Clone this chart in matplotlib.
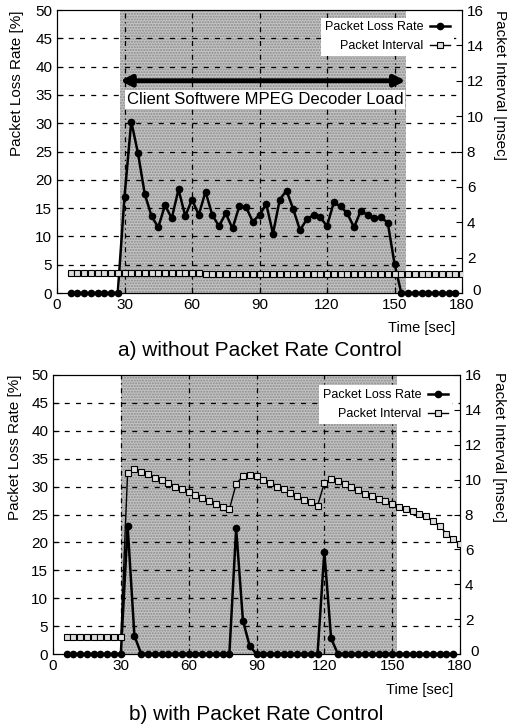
import numpy as np
import matplotlib
matplotlib.use("Agg")
import matplotlib.pyplot as plt
import matplotlib.transforms as mtransforms

plt.rcParams["font.family"] = ["Liberation Sans", "DejaVu Sans"]

# --- DATOS ---
# a) sin control de tasa
t_loss_a = list(range(6, 178, 3))
loss_a = ([0] * 8 +
          [17.0, 30.3, 24.7, 17.5, 13.6, 11.6, 15.5, 13.2, 18.3, 13.6,
           16.5, 13.8, 17.9, 13.8, 11.8, 14.1, 11.4, 15.3, 15.2, 12.6,
           13.8, 15.7, 10.5, 16.5, 18.1, 14.8, 11.1, 13.0, 13.8, 13.4,
           11.8, 16.0, 15.3, 14.1, 11.6, 14.5, 13.8, 13.2, 13.4, 12.4,
           5.2] +
          [0] * 9)
t_int_a = list(range(6, 181, 3))
int_a = [1.15, 1.15, 1.15, 1.15, 1.15, 1.15, 1.15, 1.15, 1.15, 1.15,
         1.12, 1.12, 1.12, 1.12, 1.12, 1.12, 1.12, 1.12, 1.12, 1.12,
         1.10, 1.10, 1.10, 1.10, 1.10, 1.10, 1.10, 1.10, 1.10, 1.10,
         1.08, 1.08, 1.08, 1.08, 1.08, 1.08, 1.08, 1.08, 1.08, 1.08,
         1.06, 1.06, 1.06, 1.06, 1.06, 1.06, 1.06, 1.06, 1.06, 1.06,
         1.05, 1.05, 1.05, 1.05, 1.05, 1.05, 1.05, 1.05, 1.05]

# b) con control de tasa
t_loss_b = list(range(6, 178, 3))
loss_b = ([0] * 9 + [23.0, 3.3] + [0] * 14 + [22.5, 6.0, 1.4] +
          [0] * 10 + [18.3, 2.8] + [0] * 18)
t_int_b = list(range(6, 181, 3))
int_b = ([1.0] * 9 +
         [10.4, 10.6, 10.45, 10.3, 10.1, 9.95, 9.8, 9.6, 9.45, 9.3,
          9.1, 8.95, 8.75, 8.6, 8.45, 8.3,
          9.75, 10.2, 10.25, 10.2, 10.0, 9.8, 9.6, 9.45, 9.25, 9.05,
          8.85, 8.7, 8.5,
          9.8, 10.05, 9.9, 9.75, 9.55, 9.4, 9.2, 9.05, 8.9, 8.75,
          8.6, 8.45, 8.3, 8.2, 8.05, 7.9, 7.65, 7.35, 6.9, 6.6, 6.3])

x_ticks = [0, 30, 60, 90, 120, 150, 180]
y_ticks = [0, 5, 10, 15, 20, 25, 30, 35, 40, 45, 50]
y2_ticks = [0, 2, 4, 6, 8, 10, 12, 14, 16]

W, H = 507, 725


def panel(fig, rect, t_loss, loss, t_int, interval, shade, legend_y):
    ax = fig.add_axes(rect)
    ax.set_xlim(0, 180)
    ax.set_ylim(0, 50)
    ax.set_xticks(x_ticks)
    ax.set_yticks(y_ticks)
    ax.tick_params(direction="in", labelsize=11, length=4)

    # zona de carga del decodificador
    ax.axvspan(shade[0], shade[1], facecolor="#c4c4c4", edgecolor="#8a8a8a",
               hatch="......", linewidth=0, zorder=0)

    for yv in y_ticks[1:-1]:
        ax.axhline(yv, color="black", lw=0.9, ls=(0, (4, 5)), zorder=1)
    for xv in x_ticks[1:-1]:
        ax.axvline(xv, color="black", lw=0.9, ls=(0, (4, 3, 1, 3)), zorder=1)

    l1, = ax.plot(t_loss, loss, color="black", lw=1.8, marker="o", ms=4.5,
                  label="Packet Loss Rate", zorder=4, clip_on=False)

    # eje derecho: intervalo entre paquetes
    ax2 = ax.twinx()
    ax2.set_ylim(0, 16)
    ax2.set_yticks(y2_ticks)
    ax2.tick_params(direction="in", labelsize=11, length=4)
    # el "0" derecho queda desplazado como en el original
    lab0 = ax2.get_yticklabels()[0]
    lab0.set_transform(lab0.get_transform() + mtransforms.ScaledTranslation(
        6 / 100, 4 / 100, fig.dpi_scale_trans))

    l2, = ax2.plot(t_int, interval, color="black", lw=1.0, marker="s",
                   ms=4.5, mfc="#dddddd", mec="black", mew=0.8,
                   label="Packet Interval", zorder=3)

    leg = ax2.legend([l1, l2], ["Packet Loss Rate", "Packet Interval"],
                     loc="upper right", bbox_to_anchor=(0.995, legend_y),
                     markerfirst=False, fontsize=9, frameon=True,
                     facecolor="white", edgecolor="none", framealpha=1,
                     handlelength=1.6, borderpad=0.3, labelspacing=0.55,
                     handletextpad=0.5)
    leg.get_frame().set_boxstyle("square", pad=0)
    for txt in leg.get_texts():
        txt.set_ha("right")
    return ax, ax2


fig = plt.figure(figsize=(W / 100, H / 100), dpi=100)

# --- Panel a) ---
ax_a, ax_a2 = panel(fig, [57 / W, 1 - 293 / H, 405 / W, 283 / H],
                    t_loss_a, loss_a, t_int_a, int_a, (28, 155), 0.995)
ax_a.annotate("", xy=(28, 37.5), xytext=(155, 37.5),
              arrowprops=dict(arrowstyle="<|-|>", lw=3.5, color="black",
                              mutation_scale=16, shrinkA=0, shrinkB=0),
              zorder=5)
ax_a.text(92.4, 34.1, "Client Softwere MPEG Decoder Load", fontsize=12,
          ha="center", va="center", zorder=5,
          bbox=dict(facecolor="white", edgecolor="none", pad=1.5))

fig.text(17 / W, 1 - 10 / H, "Packet Loss Rate [%]", rotation=90,
         ha="center", va="top", fontsize=11)
fig.text(500 / W, 1 - 10 / H, "Packet Interval [msec]", rotation=270,
         ha="center", va="top", fontsize=11)
fig.text(455 / W, 1 - 328 / H, "Time [sec]", ha="right", va="center",
         fontsize=10.5)
fig.text(260 / W, 1 - 350 / H, "a) without Packet Rate Control",
         ha="center", va="center", fontsize=15)

# --- Panel b) ---
ax_b, ax_b2 = panel(fig, [53 / W, 1 - 654 / H, 407 / W, 279 / H],
                    t_loss_b, loss_b, t_int_b, int_b, (30, 152), 0.985)

fig.text(15 / W, 1 - 375 / H, "Packet Loss Rate [%]", rotation=90,
         ha="center", va="top", fontsize=11)
fig.text(499 / W, 1 - 372 / H, "Packet Interval [msec]", rotation=270,
         ha="center", va="top", fontsize=11)
fig.text(453 / W, 1 - 690 / H, "Time [sec]", ha="right", va="center",
         fontsize=10.5)
fig.text(256 / W, 1 - 715 / H, "b) with Packet Rate Control",
         ha="center", va="center", fontsize=15)

fig.savefig("out.png", dpi=100)
